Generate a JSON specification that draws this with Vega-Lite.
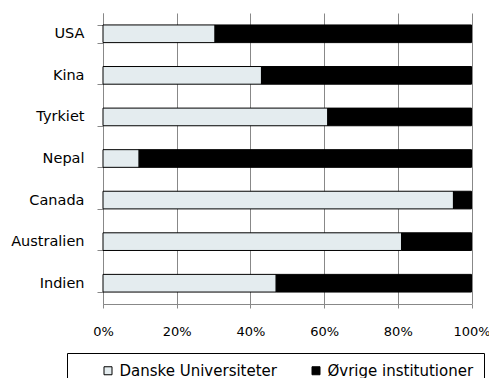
{
  "$schema": "https://vega.github.io/schema/vega-lite/v6.json",
  "width": 368.5,
  "height": 291,
  "autosize": {"type": "none"},
  "padding": {"left": 103, "top": 13, "right": 17.5, "bottom": 74},
  "config": {"view": {"stroke": null}, "font": "DejaVu Sans"},
  "data": {
    "values": [
      {"land": "USA", "institution": "Danske Universiteter", "andel": 30.4, "rk": 1},
      {"land": "USA", "institution": "Øvrige institutioner", "andel": 69.6, "rk": 2},
      {"land": "Kina", "institution": "Danske Universiteter", "andel": 43, "rk": 1},
      {"land": "Kina", "institution": "Øvrige institutioner", "andel": 57, "rk": 2},
      {"land": "Tyrkiet", "institution": "Danske Universiteter", "andel": 61, "rk": 1},
      {"land": "Tyrkiet", "institution": "Øvrige institutioner", "andel": 39, "rk": 2},
      {"land": "Nepal", "institution": "Danske Universiteter", "andel": 9.8, "rk": 1},
      {"land": "Nepal", "institution": "Øvrige institutioner", "andel": 90.2, "rk": 2},
      {"land": "Canada", "institution": "Danske Universiteter", "andel": 95.1, "rk": 1},
      {"land": "Canada", "institution": "Øvrige institutioner", "andel": 4.9, "rk": 2},
      {"land": "Australien", "institution": "Danske Universiteter", "andel": 81, "rk": 1},
      {"land": "Australien", "institution": "Øvrige institutioner", "andel": 19, "rk": 2},
      {"land": "Indien", "institution": "Danske Universiteter", "andel": 47, "rk": 1},
      {"land": "Indien", "institution": "Øvrige institutioner", "andel": 53, "rk": 2}
    ]
  },
  "mark": {"type": "bar", "stroke": "#000000", "strokeWidth": 1},
  "encoding": {
    "y": {
      "field": "land",
      "type": "nominal",
      "sort": ["USA", "Kina", "Tyrkiet", "Nepal", "Canada", "Australien", "Indien"],
      "scale": {"paddingInner": 0.575, "paddingOuter": 0.2875},
      "axis": {
        "title": null,
        "grid": false,
        "domainColor": "#888888",
        "tickColor": "#888888",
        "tickSize": 6,
        "tickBand": "extent",
        "labelFontSize": 14.5,
        "labelPadding": 13,
        "labelColor": "#000000"
      }
    },
    "x": {
      "field": "andel",
      "type": "quantitative",
      "stack": "normalize",
      "scale": {"domain": [0, 1], "nice": false},
      "axis": {
        "title": null,
        "format": ".0%",
        "values": [0, 0.2, 0.4, 0.6, 0.8, 1],
        "grid": true,
        "gridColor": "#888888",
        "gridOpacity": 1,
        "domainColor": "#888888",
        "tickColor": "#888888",
        "tickSize": 4,
        "labelFontSize": 13,
        "labelPadding": 17,
        "labelColor": "#000000",
        "labelFlush": false
      }
    },
    "color": {
      "field": "institution",
      "type": "nominal",
      "scale": {
        "domain": ["Danske Universiteter", "Øvrige institutioner"],
        "range": ["#E4ECEF", "#000000"]
      },
      "legend": {
        "title": " ",
        "titleOrient": "left",
        "titleFontSize": 1,
        "titlePadding": 23.5,
        "orient": "none",
        "legendX": -36,
        "legendY": 340,
        "direction": "horizontal",
        "strokeColor": "#000000",
        "padding": 10,
        "symbolType": "square",
        "symbolSize": 64,
        "symbolStrokeColor": "#000000",
        "symbolStrokeWidth": 1,
        "symbolOpacity": 1,
        "labelFontSize": 15,
        "labelColor": "#000000",
        "labelOffset": 4,
        "labelLimit": 300,
        "columnPadding": 31,
        "gridAlign": "all"
      }
    },
    "order": {"field": "rk", "type": "quantitative"}
  }
}
